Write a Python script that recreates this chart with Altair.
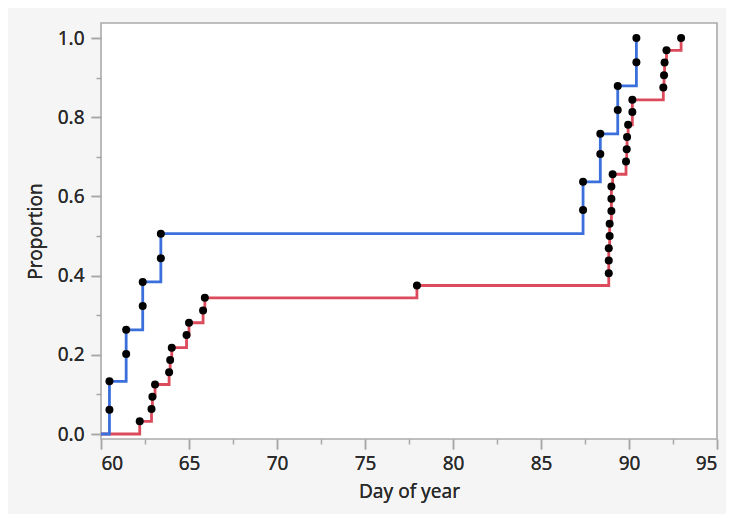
import altair as alt
import pandas as pd

# Day of year / proportion for each series
blue_x = [60.48, 60.48, 61.43, 61.43, 62.37, 62.37, 63.40, 63.40,
          87.39, 87.39, 88.37, 88.37, 89.36, 89.36, 90.42, 90.42]
blue_y = [0.061, 0.133, 0.202, 0.263, 0.323, 0.384, 0.444, 0.506,
          0.566, 0.637, 0.707, 0.758, 0.818, 0.879, 0.939, 1.0]

red_x = [62.20, 62.87, 62.92, 63.07, 63.87, 63.93, 64.02, 64.86, 65.00, 65.80, 65.90,
         77.95,
         88.85, 88.85, 88.85, 88.90, 88.90, 89.00, 89.00, 89.00, 89.07,
         89.83, 89.87, 89.89, 89.95, 90.19, 90.19,
         91.95, 91.99, 92.02, 92.13, 92.96]
red_y = [0.032, 0.063, 0.094, 0.125, 0.156, 0.187, 0.218, 0.250, 0.281, 0.312, 0.344,
         0.375,
         0.406, 0.438, 0.469, 0.500, 0.531, 0.563, 0.594, 0.625, 0.656,
         0.688, 0.719, 0.750, 0.781, 0.813, 0.844,
         0.875, 0.906, 0.938, 0.969, 1.0]

start_x = 60
start_y = 0.0

x_major = [60, 65, 70, 75, 80, 85, 90, 95]
x_minor = [62.5, 67.5, 72.5, 77.5, 82.5, 87.5, 92.5]
y_major = [0.0, 0.2, 0.4, 0.6, 0.8, 1.0]
y_minor = [0.1, 0.3, 0.5, 0.7, 0.9]

BLUE = "#3b6fdc"
RED = "#dc4b5c"
FONT = "Noto Sans"


def line_frame(xs, ys):
    xx = [start_x] + xs
    yy = [start_y] + ys
    return pd.DataFrame({"day": xx, "prop": yy, "idx": list(range(len(xx)))})


blue_line = line_frame(blue_x, blue_y)
red_line = line_frame(red_x, red_y)
points = pd.DataFrame({"day": blue_x + red_x, "prop": blue_y + red_y})

xscale = alt.Scale(domain=[60, 95], nice=False, zero=False)
yscale = alt.Scale(domain=[-0.0126, 1.038], nice=False, zero=False)

x_axis_major = alt.Axis(values=x_major, tickSize=10, title="Day of year", orient="bottom",
                        domain=False, grid=False, labelPadding=5, titlePadding=9)
y_axis_major = alt.Axis(values=y_major, tickSize=10, title="Proportion", orient="left",
                        domain=False, grid=False, format=".1f", labelPadding=7, titlePadding=12)
x_axis_minor = alt.Axis(values=x_minor, tickSize=5, labels=False, title=None, orient="bottom",
                        domain=False, grid=False)
y_axis_minor = alt.Axis(values=y_minor, tickSize=5, labels=False, title=None, orient="left",
                        domain=False, grid=False)


def step(df, color):
    return alt.Chart(df).mark_line(interpolate="step-after", color=color, strokeWidth=2.8).encode(
        x=alt.X("day:Q", scale=xscale, axis=x_axis_major),
        y=alt.Y("prop:Q", scale=yscale, axis=y_axis_major),
        order="idx:Q",
    )


red_layer = step(red_line, RED)
blue_layer = step(blue_line, BLUE)

pts = alt.Chart(points).mark_circle(color="black", size=64, opacity=1).encode(
    x=alt.X("day:Q", scale=xscale, axis=x_axis_minor),
    y=alt.Y("prop:Q", scale=yscale, axis=y_axis_minor),
)

chart = (
    alt.layer(red_layer, blue_layer, pts)
    .resolve_axis(x="independent", y="independent")
    .properties(
        width=616,
        height=416,
        autosize=alt.AutoSizeParams(type="none"),
        padding={"left": 93, "top": 15, "right": 9, "bottom": 75},
        background="#f5f5f5",
    )
    .configure_view(fill="white", stroke="#aaaaaa", strokeWidth=1.6)
    .configure_axis(
        labelFont=FONT, titleFont=FONT, labelFontSize=19, titleFontSize=19,
        labelColor="#2a2a2a", titleColor="#2a2a2a", titleFontWeight="normal",
        tickColor="#a6a6a6", tickWidth=1.5,
    )
)

chart.save("out.html", embed_options={"renderer": "svg", "actions": False})
